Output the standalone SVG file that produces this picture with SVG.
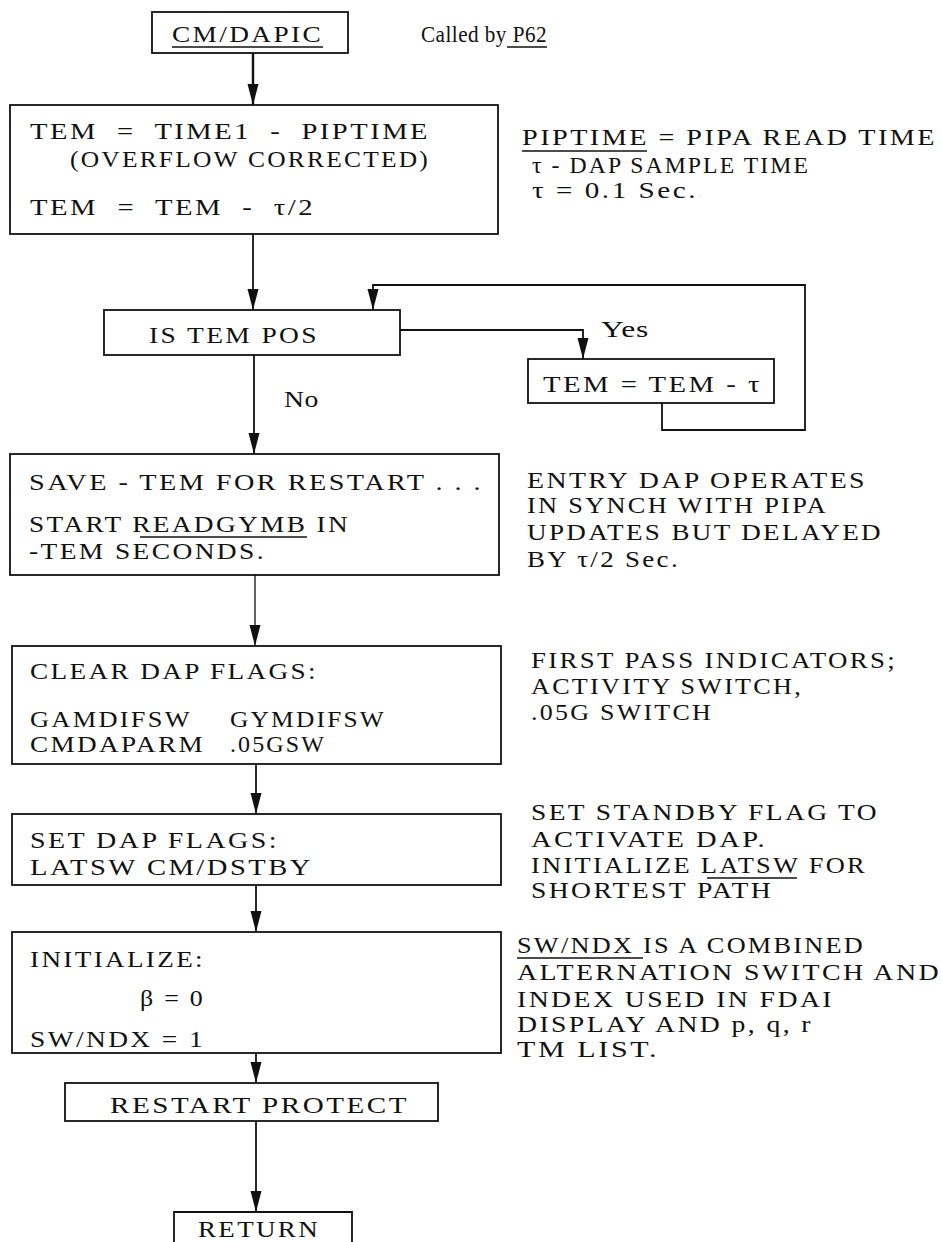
<svg xmlns="http://www.w3.org/2000/svg" width="942" height="1242" viewBox="0 0 942 1242">
<style>
text{font-family:"Liberation Serif","Times New Roman",serif;font-size:23px;fill:#111;letter-spacing:2px;white-space:pre;}
.mc{letter-spacing:0.5px;}
.box{fill:none;stroke:#111;stroke-width:1.8;}
.con{fill:none;stroke:#111;stroke-width:1.8;}
.ul{stroke:#111;stroke-width:1.5;}
</style>
<defs>
<marker id="ah" markerUnits="userSpaceOnUse" markerWidth="22" markerHeight="12" refX="21" refY="5.5" orient="auto">
<path d="M0,0 L21,5.5 L0,11 z" fill="#111"/>
</marker>
</defs>
<rect width="942" height="1242" fill="#fff"/>

<g id="connectors">
<path class="con" d="M253,53 V105" marker-end="url(#ah)" style="stroke-width:2.4"/>
<path class="con" d="M253,234 V310" marker-end="url(#ah)"/>
<path class="con" d="M400,330 H583 V359" marker-end="url(#ah)"/>
<path class="con" d="M662,403 V430 H805 V285 H373 V310" marker-end="url(#ah)"/>
<path class="con" d="M254,355 V454" marker-end="url(#ah)"/>
<path class="con" d="M255,575 V646" marker-end="url(#ah)" style="stroke-width:1.3"/>
<path class="con" d="M256,764 V814" marker-end="url(#ah)"/>
<path class="con" d="M256,885 V932" marker-end="url(#ah)"/>
<path class="con" d="M256,1053 V1083" marker-end="url(#ah)"/>
<path class="con" d="M256,1121 V1212" marker-end="url(#ah)"/>
<text class="mc" x="601" y="337" textLength="48" lengthAdjust="spacingAndGlyphs">Yes</text>
<text class="mc" x="284" y="407" textLength="35" lengthAdjust="spacingAndGlyphs">No</text>
</g>

<g id="n_start">
<rect class="box" x="152" y="12" width="196" height="41"/>
<text x="172" y="42" textLength="151" lengthAdjust="spacingAndGlyphs" font-size="24">CM/DAPIC</text>
<line class="ul" x1="172" y1="47" x2="323" y2="47"/>
</g>
<g id="note_called">
<text class="mc" x="421" y="42" textLength="126" lengthAdjust="spacingAndGlyphs">Called by P62</text>
<line class="ul" x1="507" y1="47" x2="547" y2="47"/>
</g>

<g id="n_tem">
<rect class="box" x="10" y="105" width="488" height="129"/>
<text x="30" y="139" textLength="400" lengthAdjust="spacingAndGlyphs">TEM  =  TIME1  -  PIPTIME</text>
<text x="70" y="167" textLength="360" lengthAdjust="spacingAndGlyphs">(OVERFLOW CORRECTED)</text>
<text x="30" y="215" textLength="285" lengthAdjust="spacingAndGlyphs">TEM  =  TEM  -  τ/2</text>
</g>
<g id="note_piptime">
<text x="522" y="145" textLength="415" lengthAdjust="spacingAndGlyphs">PIPTIME = PIPA READ TIME</text>
<line class="ul" x1="522" y1="151" x2="647" y2="151"/>
<text x="532" y="173" textLength="278" lengthAdjust="spacingAndGlyphs">τ - DAP SAMPLE TIME</text>
<text x="532" y="198" textLength="166" lengthAdjust="spacingAndGlyphs">τ = 0.1 Sec.</text>
</g>

<g id="n_pos">
<rect class="box" x="104" y="310" width="296" height="45"/>
<text x="149" y="343" textLength="170" lengthAdjust="spacingAndGlyphs">IS TEM POS</text>
</g>
<g id="n_dec">
<rect class="box" x="528" y="359" width="246" height="44"/>
<text x="543" y="392" textLength="219" lengthAdjust="spacingAndGlyphs">TEM = TEM - τ</text>
</g>

<g id="n_save">
<rect class="box" x="10" y="454" width="489" height="121"/>
<text x="29" y="490" textLength="454" lengthAdjust="spacingAndGlyphs">SAVE - TEM FOR RESTART . . .</text>
<text x="29" y="532" textLength="321" lengthAdjust="spacingAndGlyphs">START READGYMB IN</text>
<line class="ul" x1="140" y1="537" x2="307" y2="537"/>
<text x="29" y="559" textLength="237" lengthAdjust="spacingAndGlyphs">-TEM SECONDS.</text>
</g>
<g id="note_entry">
<text x="527" y="488" textLength="340" lengthAdjust="spacingAndGlyphs">ENTRY DAP OPERATES</text>
<text x="527" y="513" textLength="301" lengthAdjust="spacingAndGlyphs">IN SYNCH WITH PIPA</text>
<text x="527" y="540" textLength="356" lengthAdjust="spacingAndGlyphs">UPDATES BUT DELAYED</text>
<text x="527" y="567" textLength="153" lengthAdjust="spacingAndGlyphs">BY τ/2 Sec.</text>
</g>

<g id="n_clear">
<rect class="box" x="12" y="646" width="489" height="118"/>
<text x="30" y="679" textLength="288" lengthAdjust="spacingAndGlyphs">CLEAR DAP FLAGS:</text>
<text x="30" y="727" textLength="162" lengthAdjust="spacingAndGlyphs">GAMDIFSW</text>
<text x="230" y="727" textLength="156" lengthAdjust="spacingAndGlyphs">GYMDIFSW</text>
<text x="30" y="752" textLength="175" lengthAdjust="spacingAndGlyphs">CMDAPARM</text>
<text x="230" y="752" textLength="96" lengthAdjust="spacingAndGlyphs">.05GSW</text>
</g>
<g id="note_first">
<text x="531" y="668" textLength="366" lengthAdjust="spacingAndGlyphs">FIRST PASS INDICATORS;</text>
<text x="531" y="694" textLength="272" lengthAdjust="spacingAndGlyphs">ACTIVITY SWITCH,</text>
<text x="531" y="720" textLength="182" lengthAdjust="spacingAndGlyphs">.05G SWITCH</text>
</g>

<g id="n_set">
<rect class="box" x="12" y="814" width="489" height="71"/>
<text x="30" y="848" textLength="249" lengthAdjust="spacingAndGlyphs">SET DAP FLAGS:</text>
<text x="30" y="875" textLength="283" lengthAdjust="spacingAndGlyphs">LATSW CM/DSTBY</text>
</g>
<g id="note_standby">
<text x="531" y="820" textLength="348" lengthAdjust="spacingAndGlyphs">SET STANDBY FLAG TO</text>
<text x="531" y="847" textLength="236" lengthAdjust="spacingAndGlyphs">ACTIVATE DAP.</text>
<text x="531" y="873" textLength="336" lengthAdjust="spacingAndGlyphs">INITIALIZE LATSW FOR</text>
<line class="ul" x1="707" y1="878" x2="797" y2="878"/>
<text x="531" y="898" textLength="242" lengthAdjust="spacingAndGlyphs">SHORTEST PATH</text>
</g>

<g id="n_init">
<rect class="box" x="12" y="932" width="489" height="121"/>
<text x="30" y="967" textLength="175" lengthAdjust="spacingAndGlyphs">INITIALIZE:</text>
<text x="140" y="1006" textLength="65" lengthAdjust="spacingAndGlyphs">β = 0</text>
<text x="30" y="1047" textLength="175" lengthAdjust="spacingAndGlyphs">SW/NDX = 1</text>
</g>
<g id="note_swndx">
<text x="517" y="953" textLength="348" lengthAdjust="spacingAndGlyphs">SW/NDX IS A COMBINED</text>
<line class="ul" x1="517" y1="958" x2="643" y2="958"/>
<text x="517" y="980" textLength="424" lengthAdjust="spacingAndGlyphs">ALTERNATION SWITCH AND</text>
<text x="517" y="1007" textLength="317" lengthAdjust="spacingAndGlyphs">INDEX USED IN FDAI</text>
<text x="517" y="1032" textLength="296" lengthAdjust="spacingAndGlyphs">DISPLAY AND p, q, r</text>
<text x="517" y="1057" textLength="142" lengthAdjust="spacingAndGlyphs">TM LIST.</text>
</g>

<g id="n_restart">
<rect class="box" x="65" y="1083" width="373" height="38"/>
<text x="110" y="1113" textLength="299" lengthAdjust="spacingAndGlyphs">RESTART PROTECT</text>
</g>
<g id="n_return">
<path class="box" d="M174,1246 V1212 H352 V1246"/>
<text x="198" y="1237" textLength="122" lengthAdjust="spacingAndGlyphs">RETURN</text>
</g>
</svg>
